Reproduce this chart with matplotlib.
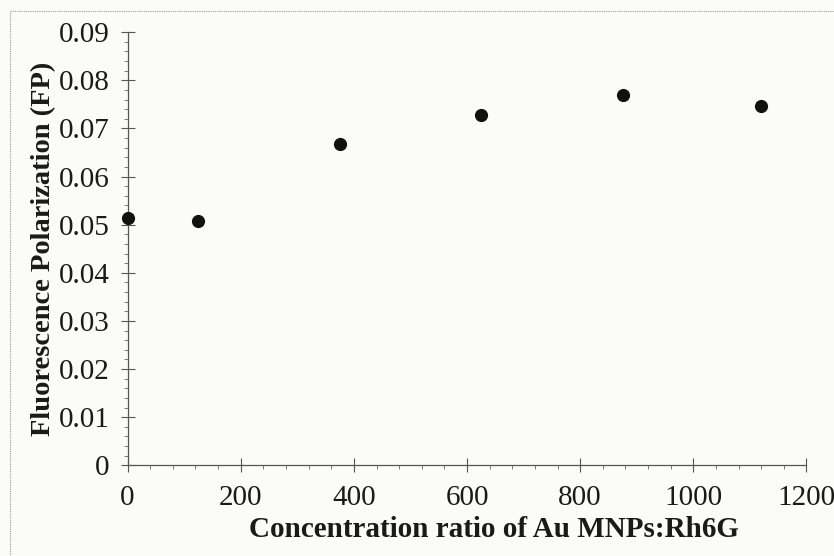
import matplotlib
matplotlib.use("Agg")
import matplotlib.pyplot as plt
from matplotlib.ticker import MultipleLocator
from matplotlib.lines import Line2D

# Fluorescence polarization vs. Au MNPs:Rh6G concentration ratio
ratio = [0, 125, 375, 625, 875, 1120]
fp = [0.0515, 0.0508, 0.0668, 0.0729, 0.0770, 0.0747]

x_ticks = [0, 200, 400, 600, 800, 1000, 1200]
y_ticks = [0, 0.01, 0.02, 0.03, 0.04, 0.05, 0.06, 0.07, 0.08, 0.09]
y_tick_labels = ["0", "0.01", "0.02", "0.03", "0.04", "0.05", "0.06", "0.07", "0.08", "0.09"]

plt.rcParams["font.family"] = ["Liberation Serif", "DejaVu Serif"]

fig = plt.figure(figsize=(8.34, 5.56), dpi=100)
fig.patch.set_facecolor("#fbfbf9")

# dotted chart-area border (top and left edges)
border = dict(transform=fig.transFigure, color="#9a9a9a",
              linestyle=(0, (1, 1)), linewidth=0.8)
fig.lines.append(Line2D([10 / 834, 1.0], [1 - 11 / 556, 1 - 11 / 556], **border))
fig.lines.append(Line2D([10 / 834, 10 / 834], [0.0, 1 - 11 / 556], **border))

ax = fig.add_axes([0.153, 0.163, 0.814, 0.779])
ax.set_facecolor("none")

ax.scatter(ratio, fp, s=72, color="#111111", zorder=3, clip_on=False)

ax.set_xlim(0, 1200)
ax.set_ylim(0, 0.09)
ax.set_xticks(x_ticks)
ax.set_yticks(y_ticks)
ax.set_yticklabels(y_tick_labels)
ax.xaxis.set_minor_locator(MultipleLocator(40))
ax.yaxis.set_minor_locator(MultipleLocator(0.002))

for side in ("top", "right"):
    ax.spines[side].set_visible(False)
for side in ("left", "bottom"):
    ax.spines[side].set_color("#555555")
    ax.spines[side].set_linewidth(0.9)

ax.tick_params(which="major", direction="inout", length=10, width=0.8,
               color="#555555", labelsize=21, labelcolor="#1a1a1a")
ax.tick_params(which="minor", direction="out", length=3, width=0.6,
               color="#666666")
ax.tick_params(axis="y", which="major", pad=8)
ax.tick_params(axis="x", which="major", pad=9)

ax.set_xlabel("Concentration ratio of Au MNPs:Rh6G", fontsize=21,
              fontweight="bold", labelpad=4, color="#1a1a1a")
ax.xaxis.label.set_x(0.54)
ax.set_ylabel("Fluorescence Polarization (FP)", fontsize=20.5,
              fontweight="bold", labelpad=2, color="#1a1a1a")

fig.savefig("out.png", dpi=100, facecolor=fig.get_facecolor())
